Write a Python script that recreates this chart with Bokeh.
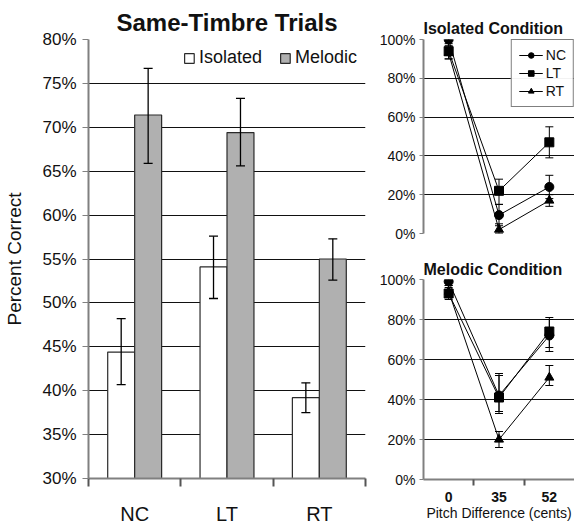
from bokeh.plotting import figure
from bokeh.layouts import row, column
from bokeh.models import (ColumnDataSource, Range1d, FixedTicker, PrintfTickFormatter,
                          Whisker, TeeHead)
from bokeh.embed import file_html
from bokeh.resources import INLINE

FONT = "Liberation Sans"

# ---------------- data ----------------
conditions = ["NC", "LT", "RT"]
isolated_mean = [44.4, 54.1, 39.2]
isolated_low = [40.7, 50.5, 37.5]
isolated_high = [48.2, 57.6, 40.9]
melodic_mean = [71.4, 69.4, 55.0]
melodic_low = [65.9, 65.6, 52.6]
melodic_high = [76.7, 73.3, 57.3]
main_y_ticks = [30, 35, 40, 45, 50, 55, 60, 65, 70, 75, 80]

pitch_labels = ["0", "35", "52"]
small_y_ticks = [0, 20, 40, 60, 80, 100]

iso_nc = [100, 9.5, 24]
iso_nc_low = [97, 4, 18]
iso_nc_high = [100, 15, 30]
iso_lt = [94, 22, 47]
iso_lt_low = [90, 15, 39]
iso_lt_high = [98, 28, 55]
iso_rt = [93, 2, 17]
iso_rt_low = [90, 0, 14]
iso_rt_high = [96, 5, 20]

mel_nc = [99, 42, 72]
mel_nc_low = [97, 33, 64]
mel_nc_high = [100, 53, 81]
mel_lt = [93, 41, 74]
mel_lt_low = [90, 34, 66]
mel_lt_high = [96, 52, 80]
mel_rt = [94, 20, 51]
mel_rt_low = [91, 16, 47]
mel_rt_high = [97, 24, 57]

# ---------------- main bar chart ----------------
xc = [i + 0.5 for i in range(len(conditions))]
bar_w = 0.292
iso_x = [c - bar_w / 2 for c in xc]
mel_x = [c + bar_w / 2 for c in xc]

p = figure(width=372, height=527, x_range=Range1d(0, 3), y_range=Range1d(30, 80),
           output_backend="svg", toolbar_location=None,
           min_border_left=88, min_border_right=7, min_border_top=39, min_border_bottom=48)
p.outline_line_color = None
p.background_fill_color = "white"

p.title.text = "Same-Timbre Trials"
p.title.align = "center"
p.title.text_font = FONT
p.title.text_font_size = "24px"
p.title.text_font_style = "bold"
p.title.text_color = "#111111"
p.title.standoff = 8

p.vbar(x=iso_x, top=isolated_mean, bottom=0, width=bar_w, fill_color="white",
       line_color="#2a2a2a", line_width=1.2, legend_label="Isolated")
p.vbar(x=mel_x, top=melodic_mean, bottom=0, width=bar_w, fill_color="#b0b0b0",
       line_color="#2a2a2a", line_width=1.2, legend_label="Melodic")

for xs, lo, hi in [(iso_x, isolated_low, isolated_high), (mel_x, melodic_low, melodic_high)]:
    src = ColumnDataSource(dict(x=xs, lo=lo, hi=hi))
    p.add_layout(Whisker(base="x", lower="lo", upper="hi", source=src, level="annotation",
                         line_color="black", line_width=1.3,
                         upper_head=TeeHead(size=9, line_width=1.3, line_color="black"),
                         lower_head=TeeHead(size=9, line_width=1.3, line_color="black")))

p.xgrid.visible = False
p.ygrid.ticker = FixedTicker(ticks=main_y_ticks)
p.ygrid.grid_line_color = "#111111"
p.ygrid.grid_line_width = 1.2

p.yaxis.ticker = FixedTicker(ticks=main_y_ticks)
p.yaxis.formatter = PrintfTickFormatter(format="%d%%")
p.yaxis.axis_label = "Percent Correct"
p.yaxis.axis_label_text_font = FONT
p.yaxis.axis_label_text_font_size = "19px"
p.yaxis.axis_label_text_font_style = "normal"
p.yaxis.axis_label_text_color = "#111111"
p.yaxis.axis_label_standoff = 14
p.yaxis.major_label_text_font = FONT
p.yaxis.major_label_text_font_size = "17px"
p.yaxis.major_label_text_color = "#111111"
p.yaxis.axis_line_color = "#808080"
p.yaxis.axis_line_width = 2
p.yaxis.major_tick_line_color = "#808080"
p.yaxis.major_tick_out = 6
p.yaxis.major_tick_in = 0
p.yaxis.minor_tick_line_color = None
p.yaxis.major_label_standoff = 6

p.xaxis.ticker = FixedTicker(ticks=xc, minor_ticks=[0, 1, 2, 3])
p.xaxis.major_label_overrides = {x: lab for x, lab in zip(xc, conditions)}
p.xaxis.major_label_text_font = FONT
p.xaxis.major_label_text_font_size = "20px"
p.xaxis.major_label_text_color = "#111111"
p.xaxis.major_tick_line_color = None
p.xaxis.major_tick_out = 0
p.xaxis.major_tick_in = 0
p.xaxis.minor_tick_line_color = "#555555"
p.xaxis.minor_tick_line_width = 2
p.xaxis.minor_tick_out = 8
p.xaxis.minor_tick_in = 0
p.xaxis.major_label_standoff = 16
p.xaxis.axis_line_color = "#808080"
p.xaxis.axis_line_width = 2

p.legend.orientation = "horizontal"
p.legend.location = "top_right"
p.legend.label_text_font = FONT
p.legend.label_text_font_size = "18px"
p.legend.label_text_color = "#111111"
p.legend.glyph_width = 12
p.legend.glyph_height = 12
p.legend.label_height = 14
p.legend.label_standoff = 4
p.legend.spacing = 17
p.legend.padding = 2
p.legend.margin = 8
p.legend.border_line_color = None
p.legend.background_fill_color = "white"


# ---------------- small line charts ----------------
def small_chart(title, series, height, top, bottom, show_x, title_standoff):
    s = figure(width=202, height=height, x_range=Range1d(0, 3), y_range=Range1d(0, 100),
               output_backend="svg", toolbar_location=None,
               min_border_left=51, min_border_right=0,
               min_border_top=top, min_border_bottom=bottom)
    s.outline_line_color = None
    s.title.text = title
    s.title.align = "left"
    s.title.text_font = FONT
    s.title.text_font_size = "16px"
    s.title.text_font_style = "bold"
    s.title.text_color = "#111111"
    s.title.standoff = title_standoff

    for label, marker, vals, lo, hi in series:
        s.line(x=xc, y=vals, line_color="black", line_width=1, legend_label=label)
        s.scatter(x=xc, y=vals, marker=marker, size=9, fill_color="black",
                  line_color="black", legend_label=label)
        src = ColumnDataSource(dict(x=xc, lo=lo, hi=hi))
        s.add_layout(Whisker(base="x", lower="lo", upper="hi", source=src, level="annotation",
                             line_color="black", line_width=1,
                             upper_head=TeeHead(size=8, line_width=1, line_color="black"),
                             lower_head=TeeHead(size=8, line_width=1, line_color="black")))

    s.xgrid.visible = False
    s.ygrid.ticker = FixedTicker(ticks=small_y_ticks)
    s.ygrid.grid_line_color = "#111111"
    s.ygrid.grid_line_width = 1.2

    s.yaxis.ticker = FixedTicker(ticks=small_y_ticks)
    s.yaxis.formatter = PrintfTickFormatter(format="%d%%")
    s.yaxis.major_label_text_font = FONT
    s.yaxis.major_label_text_font_size = "14px"
    s.yaxis.major_label_text_color = "#111111"
    s.yaxis.axis_line_color = "#808080"
    s.yaxis.axis_line_width = 2
    s.yaxis.major_tick_line_color = "#808080"
    s.yaxis.major_tick_out = 4
    s.yaxis.major_tick_in = 0
    s.yaxis.minor_tick_line_color = None
    s.yaxis.major_label_standoff = 4

    if show_x:
        s.xaxis.ticker = FixedTicker(ticks=xc, minor_ticks=[1, 2])
        s.xaxis.major_label_overrides = {x: lab for x, lab in zip(xc, pitch_labels)}
        s.xaxis.major_label_text_font = FONT
        s.xaxis.major_label_text_font_size = "14px"
        s.xaxis.major_label_text_font_style = "bold"
        s.xaxis.major_label_text_color = "#111111"
        s.xaxis.major_tick_line_color = None
        s.xaxis.major_tick_out = 0
        s.xaxis.major_tick_in = 0
        s.xaxis.minor_tick_line_color = "#555555"
        s.xaxis.minor_tick_line_width = 2
        s.xaxis.minor_tick_out = 6
        s.xaxis.minor_tick_in = 0
        s.xaxis.major_label_standoff = 6
        s.xaxis.axis_line_color = "#808080"
        s.xaxis.axis_line_width = 2
        s.xaxis.axis_label = "Pitch Difference (cents)"
        s.xaxis.axis_label_text_font = FONT
        s.xaxis.axis_label_text_font_size = "14px"
        s.xaxis.axis_label_text_font_style = "normal"
        s.xaxis.axis_label_text_color = "#111111"
        s.xaxis.axis_label_standoff = 0
    else:
        s.xaxis.visible = False

    s.legend.location = "top_right"
    s.legend.margin = 0
    s.legend.padding = 7
    s.legend.spacing = 2
    s.legend.border_line_color = "black"
    s.legend.border_line_width = 1
    s.legend.background_fill_color = "white"
    s.legend.label_text_font = FONT
    s.legend.label_text_font_size = "14px"
    s.legend.label_text_color = "#111111"
    s.legend.glyph_width = 24
    s.legend.glyph_height = 14
    s.legend.label_height = 14
    s.legend.label_standoff = 3
    return s


s1 = small_chart("Isolated Condition",
                 [("NC", "circle", iso_nc, iso_nc_low, iso_nc_high),
                  ("LT", "square", iso_lt, iso_lt_low, iso_lt_high),
                  ("RT", "triangle", iso_rt, iso_rt_low, iso_rt_high)],
                 height=250, top=39, bottom=17, show_x=False, title_standoff=5)
s2 = small_chart("Melodic Condition",
                 [("NC", "circle", mel_nc, mel_nc_low, mel_nc_high),
                  ("LT", "square", mel_lt, mel_lt_low, mel_lt_high),
                  ("RT", "triangle", mel_rt, mel_rt_low, mel_rt_high)],
                 height=277, top=29, bottom=48, show_x=True, title_standoff=3)
s2.legend.visible = False

layout = row(p, column(s1, s2))
open("out.html", "w").write(file_html(layout, INLINE))
